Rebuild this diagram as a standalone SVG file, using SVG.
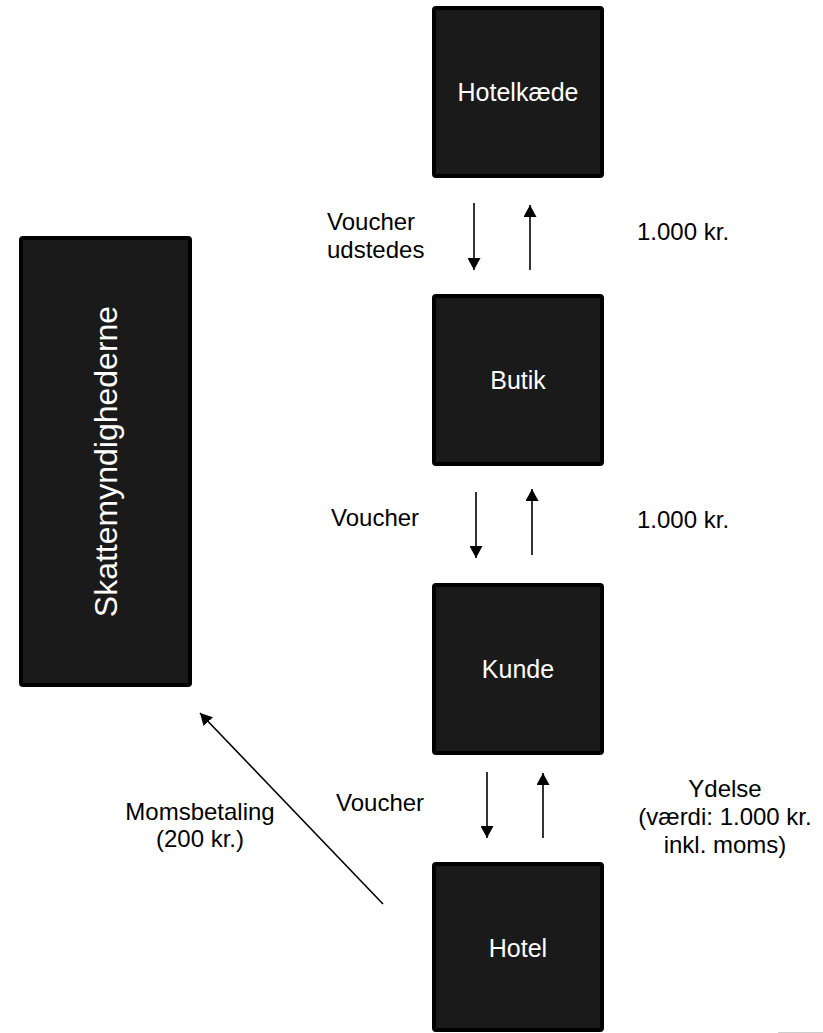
<svg xmlns="http://www.w3.org/2000/svg" width="823" height="1033" viewBox="0 0 823 1033">
<style>
.box{fill:#1a1a1a;stroke:#000;stroke-width:4}
.bt{fill:#fff;font-family:"Liberation Sans",Arial,sans-serif;font-size:25px;text-anchor:middle}
.lb{fill:#000;font-family:"Liberation Sans",Arial,sans-serif;font-size:24px}
.c{text-anchor:middle}
.ar{stroke:#000;stroke-width:1.6;fill:none;marker-end:url(#ah)}
</style>
<defs>
<marker id="ah" viewBox="0 0 12 13" refX="12" refY="6.5" markerWidth="12" markerHeight="13" markerUnits="userSpaceOnUse" orient="auto">
<path d="M0,0 L12,6.5 L0,13 z" fill="#000"/>
</marker>
</defs>
<rect width="823" height="1033" fill="#fff"/>
<g id="skattemyndighederne">
<rect class="box" x="21" y="238" width="169" height="447" rx="2"/>
<text class="bt" style="font-size:32px" transform="translate(117,461.5) rotate(-90)" x="0" y="0">Skattemyndighederne</text>
</g>
<g id="hotelkaede">
<rect class="box" x="434" y="8" width="168" height="168" rx="2"/>
<text class="bt" x="518" y="101">Hotelkæde</text>
</g>
<g id="butik">
<rect class="box" x="434" y="296" width="168" height="168" rx="2"/>
<text class="bt" x="518" y="389">Butik</text>
</g>
<g id="kunde">
<rect class="box" x="434" y="585" width="168" height="168" rx="2"/>
<text class="bt" x="518" y="678">Kunde</text>
</g>
<g id="hotel">
<rect class="box" x="434" y="864" width="168" height="166" rx="2"/>
<text class="bt" x="518" y="957">Hotel</text>
</g>
<g id="connectors">
<line class="ar" x1="474" y1="203" x2="474" y2="270"/>
<line class="ar" x1="530" y1="270" x2="530" y2="205"/>
<line class="ar" x1="476" y1="492" x2="476" y2="558"/>
<line class="ar" x1="532" y1="555" x2="532" y2="489"/>
<line class="ar" x1="487" y1="772" x2="487" y2="838"/>
<line class="ar" x1="543" y1="838" x2="543" y2="773"/>
<line class="ar" x1="383" y1="904" x2="200" y2="713"/>
</g>
<g id="labels">
<text class="lb" x="327" y="230">Voucher</text>
<text class="lb" x="327" y="258">udstedes</text>
<text class="lb" x="637" y="240">1.000 kr.</text>
<text class="lb" x="331" y="526">Voucher</text>
<text class="lb" x="637" y="528">1.000 kr.</text>
<text class="lb" x="336" y="811">Voucher</text>
<text class="lb c" x="725" y="797">Ydelse</text>
<text class="lb c" x="725" y="825">(værdi: 1.000 kr.</text>
<text class="lb c" x="725" y="853">inkl. moms)</text>
<text class="lb c" x="200" y="820">Momsbetaling</text>
<text class="lb c" x="200" y="847">(200 kr.)</text>
</g>
<line x1="778" y1="1032.5" x2="823" y2="1032.5" stroke="#ccc" stroke-width="1"/>
</svg>
